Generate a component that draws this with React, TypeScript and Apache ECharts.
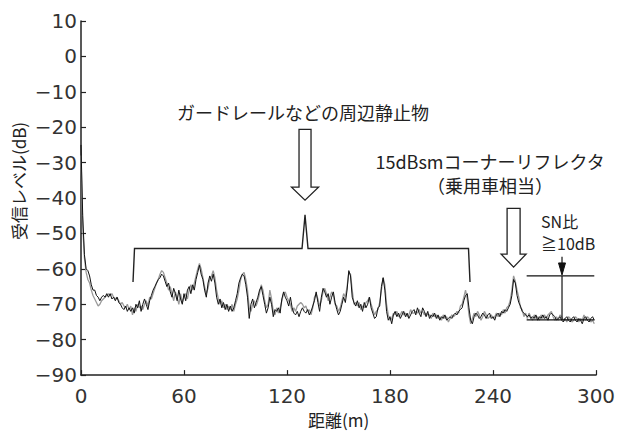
import React, { useEffect, useRef } from "react";
import * as echarts from "echarts";

// ---- Data ----
const STEP_M = 1; // sampling step along distance (m)

const blackLevels: number[] = [
  -25, -45, -56, -60, -60.5, -62, -64.5, -66, -66, -67.5,
  -68, -69, -68, -67.5, -68, -67, -68, -67, -68.5, -68,
  -69, -68, -69.5, -70, -71, -71.5, -70.5, -72, -71, -72,
  -71, -72.5, -70, -71, -69, -72, -70, -68.5, -70, -71.5,
  -69, -67.5, -66, -65, -64, -63, -62.5, -61.5, -62, -63.5,
  -65, -64, -66.5, -68, -65.5, -67, -69, -66, -68.5, -70,
  -67, -69, -66, -65, -67, -64.5, -66, -63, -61, -59,
  -61.5, -63, -66, -68, -64, -62, -63.5, -61.5, -64, -68,
  -70, -68.5, -71, -69.5, -71.5, -70, -72, -70.5, -72, -71,
  -69, -67, -64, -62.5, -61.5, -62, -64.5, -68, -74, -70,
  -68.5, -71, -69.5, -68, -66, -65, -67.5, -70, -72.5, -71,
  -68, -70, -73.5, -71.5, -72, -71, -72.5, -68.5, -66.5, -68,
  -69, -70.5, -68, -71, -72.5, -73, -72, -73.5, -72, -71,
  -72, -72.5, -71.5, -73, -72, -70.5, -69, -66.5, -69.5, -72,
  -68, -65.5, -66.5, -68, -67, -70, -68, -66.5, -69.5, -71.5,
  -73, -72, -70, -68, -69.5, -66, -60.5, -62, -68, -69.5,
  -70.5, -69, -71, -70, -72, -69.5, -71, -70, -68, -71,
  -72.5, -74, -73.5, -71, -70.5, -65, -62.5, -66, -72, -74.5,
  -73.5, -75.5, -73, -72, -73.5, -72.5, -74, -73, -72, -73.5,
  -72.5, -74, -73, -72, -71.5, -73, -71, -72.5, -73.5, -71,
  -72, -73.5, -72, -74, -73, -73.5, -72.5, -74, -73, -74.5,
  -73.5, -74, -73, -74.5, -74, -73.5, -74, -73, -72.5, -73,
  -72, -71.5, -71, -69, -67.5, -67, -71, -74.5, -75.5, -73.5,
  -72.5, -73, -74, -73.5, -72.5, -73, -74, -73, -72.5, -74,
  -73.5, -74.5, -73, -72.5, -73.5, -72, -72.5, -71.5, -72, -71,
  -70, -67.5, -63, -64, -67.5, -69.5, -70.5, -72, -72.5, -73,
  -73.5, -73, -74, -73.5, -74, -73, -74.5, -73.5, -74, -73,
  -74, -73.5, -74.5, -73, -72.5, -73, -73.5, -74.5, -74, -73.5,
  -74.5, -75, -74, -73.5, -74.5, -75, -74, -73.5, -74.5, -75,
  -74, -74.5, -75.5, -74, -73.5, -74.5, -75, -74, -73.5, -74.5,
];

const grayLevels: number[] = [
  -28, -48, -57, -61, -63, -64, -66, -67.5, -68.5, -69.5,
  -70.5, -70, -69, -68.5, -68, -67.5, -67, -67.5, -67, -68,
  -68.5, -68, -69, -70, -69.5, -70.5, -71, -70, -71.5, -70.5,
  -73, -71, -72, -70, -71, -70.5, -71.5, -70, -69, -70.5,
  -68, -68.5, -67, -65.5, -64, -63, -61.5, -60.5, -61, -62.5,
  -64, -66, -65, -67, -69, -66.5, -68, -70, -67, -69.5,
  -68, -67, -68.5, -66, -64.5, -66, -64, -62, -60, -58.5,
  -60, -62.5, -65, -67, -65.5, -63, -62, -60.5, -62.5, -66,
  -68.5, -70, -69, -71, -70, -71.5, -70.5, -71.5, -70, -72,
  -70, -68.5, -66, -63, -61.5, -61, -63, -66, -71, -72,
  -70, -69, -70.5, -69, -67, -64.5, -66, -69, -71, -70,
  -66, -68.5, -72, -73, -71, -72.5, -71, -69, -67, -66.5,
  -68, -69, -70, -72, -71, -72, -70.5, -70, -69.5, -70,
  -71, -70.5, -72, -71.5, -73, -71, -68, -67, -68.5, -70.5,
  -69, -66.5, -65.5, -67, -69, -68, -66.5, -67.5, -70, -70.5,
  -72, -71, -69, -67, -68, -65, -61, -61.5, -66, -70,
  -69.5, -70.5, -69.5, -71.5, -70.5, -71, -69.5, -69, -68, -70,
  -71.5, -73, -72, -71.5, -69.5, -66, -62.5, -64.5, -70, -73,
  -74.5, -74, -72.5, -73, -72, -73.5, -73, -72, -73, -72.5,
  -73.5, -73, -71.5, -72.5, -72.5, -72, -72.5, -71.5, -72.5, -72,
  -73, -72.5, -73, -73, -74, -72.5, -73.5, -73, -74, -73.5,
  -74.5, -73, -74, -73.5, -75, -74, -73, -73.5, -73, -72,
  -72.5, -70.5, -70, -68, -66, -68.5, -73, -75.5, -74, -72.5,
  -73.5, -72, -73, -74.5, -73.5, -72, -73, -74, -73.5, -73,
  -74, -73.5, -72.5, -73.5, -72.5, -73, -71.5, -72.5, -71, -70.5,
  -69, -66, -62, -63.5, -66, -68, -71, -71.5, -73.5, -72.5,
  -74, -72.5, -73.5, -74.5, -73, -74, -73.5, -74.5, -73, -74,
  -73, -74, -73, -72.5, -72, -73.5, -74.5, -73.5, -74.5, -73,
  -73.5, -74.5, -74, -75, -73.5, -74, -75, -74.5, -73.5, -74,
  -75, -74, -74.5, -73, -74.5, -73.5, -74, -75, -74.5, -75.5,
];

const xTicks = [0, 60, 120, 180, 240, 300];
const yTicks = [-90, -80, -70, -60, -50, -40, -30, -20, -10, 0, 10];

// annotation anchors in data units [distance m, level dB]
const guardLabel = { text: "ガードレールなどの周辺静止物", at: [129.3, -15.6] };
const guardArrow = { top: [130.5, -20.6], tip: [130.5, -40.6] };
const brace = { from: 30.3, to: 226.6, mid: 130.5, bar: -54.25, end: -63.7, peak: -44.7 };
const cornerLabel1 = { text: "15dBsmコーナーリフレクタ", at: [238.3, -29.5] };
const cornerLabel2 = { text: "（乗用車相当）", at: [238.3, -36.4] };
const cornerArrow = { top: [252, -42.9], tip: [252, -59.5] };
const snLabel1 = { text: "SN比", at: [268, -46.6] };
const snLabel2 = { text: "≧10dB", at: [268, -52.8] };
const snLevels = { signal: -62, noise: -74.4, from: 259.6, to: 299, at: 280.2, arrowTop: -56.6 };

const FONT = "'Noto Sans CJK JP', 'DejaVu Sans', sans-serif";
const NUM_FONT = "'DejaVu Sans', sans-serif";

export default function App() {
  const ref = useRef<HTMLDivElement>(null);

  useEffect(() => {
    document.body.style.margin = "0";
    if (!ref.current) return;
    const chart = echarts.init(ref.current, undefined, { renderer: "svg" });

    const toPairs = (arr: number[]) => arr.map((v, i) => [i * STEP_M, v]);

    chart.setOption({
      animation: false,
      backgroundColor: "#ffffff",
      grid: { left: 81, right: 23, top: 21, bottom: 52, containLabel: false },
      xAxis: {
        type: "value",
        min: xTicks[0],
        max: xTicks[xTicks.length - 1],
        interval: 60,
        name: "距離(m)",
        nameLocation: "middle",
        nameGap: 31,
        nameTextStyle: { fontSize: 17, color: "#222", fontFamily: FONT },
        axisLine: { onZero: false, lineStyle: { color: "#222", width: 1.5 } },
        axisTick: { inside: true, length: 5, lineStyle: { color: "#222", width: 1.2 } },
        axisLabel: { fontSize: 20, color: "#333", margin: 11, fontFamily: NUM_FONT },
        splitLine: { show: false },
      },
      yAxis: {
        type: "value",
        min: yTicks[0],
        max: yTicks[yTicks.length - 1],
        interval: 10,
        axisLine: { show: true, onZero: false, lineStyle: { color: "#222", width: 1.5 } },
        axisTick: { show: true, inside: true, length: 5, lineStyle: { color: "#222", width: 1.2 } },
        axisLabel: {
          fontSize: 20,
          color: "#333",
          margin: 4,
          fontFamily: NUM_FONT,
          formatter: (v: number) => String(v).replace("-", "−"),
        },
        splitLine: { show: false },
      },
      series: [
        {
          type: "line",
          data: toPairs(grayLevels),
          showSymbol: false,
          lineStyle: { color: "#9a9a9a", width: 1.3 },
          z: 2,
        },
        {
          type: "line",
          data: toPairs(blackLevels),
          showSymbol: false,
          lineStyle: { color: "#111", width: 1 },
          z: 3,
        },
      ],
    });

    const px = (d: number, v: number) => chart.convertToPixel({ gridIndex: 0 }, [d, v]) as number[];

    const textEl = (t: { text: string; at: number[] }, align: string, size: number, family = FONT) => {
      const p = px(t.at[0], t.at[1]);
      return {
        type: "text",
        x: p[0],
        y: p[1],
        style: {
          text: t.text,
          fill: "#222",
          font: `${size}px ${family}`,
          align,
          verticalAlign: "middle",
        },
        z: 10,
      };
    };

    const hollowArrow = (top: number[], tip: number[], shaftW: number, headW: number, headH: number) => {
      const a = px(top[0], top[1]);
      const b = px(tip[0], tip[1]);
      const cx = b[0];
      const baseY = b[1] - headH;
      return {
        type: "polygon",
        shape: {
          points: [
            [cx - shaftW / 2, a[1]],
            [cx + shaftW / 2, a[1]],
            [cx + shaftW / 2, baseY],
            [cx + headW / 2, baseY],
            [cx, b[1]],
            [cx - headW / 2, baseY],
            [cx - shaftW / 2, baseY],
          ],
        },
        style: { fill: "#fff", stroke: "#222", lineWidth: 1.3 },
        z: 10,
      };
    };

    const bl = px(brace.from, brace.end);
    const bt = px(brace.from, brace.bar);
    const br = px(brace.to, brace.bar);
    const bre = px(brace.to, brace.end);
    const bm = px(brace.mid, brace.bar);
    const bp = px(brace.mid, brace.peak);

    const sigL = px(snLevels.from, snLevels.signal);
    const sigR = px(snLevels.to, snLevels.signal);
    const noiL = px(snLevels.from, snLevels.noise);
    const noiR = px(snLevels.to, snLevels.noise);
    const arTop = px(snLevels.at, snLevels.arrowTop);
    const arTip = px(snLevels.at, snLevels.signal);
    const arBot = px(snLevels.at, snLevels.noise);

    const graphic: any[] = [
      textEl(guardLabel, "center", 18),
      hollowArrow(guardArrow.top, guardArrow.tip, 12, 27, 13),
      {
        type: "polyline",
        shape: {
          points: [
            [bl[0], bl[1]],
            [bt[0] + 1.5, bt[1]],
            [bm[0] - 3, bm[1]],
            [bp[0] - 0.5, bp[1] + 6],
            [bp[0], bp[1]],
            [bp[0] + 0.5, bp[1] + 6],
            [bm[0] + 3, bm[1]],
            [br[0] - 1.5, br[1]],
            [bre[0], bre[1]],
          ],
        },
        style: { stroke: "#222", lineWidth: 1.4, fill: null },
        z: 10,
      },
      textEl(cornerLabel1, "center", 18),
      textEl(cornerLabel2, "center", 18),
      hollowArrow(cornerArrow.top, cornerArrow.tip, 13, 25, 13),
      textEl(snLabel1, "left", 16),
      textEl(snLabel2, "left", 16),
      {
        type: "line",
        shape: { x1: sigL[0], y1: sigL[1], x2: sigR[0], y2: sigR[1] },
        style: { stroke: "#111", lineWidth: 1.2 },
        z: 10,
      },
      {
        type: "line",
        shape: { x1: noiL[0], y1: noiL[1], x2: noiR[0], y2: noiR[1] },
        style: { stroke: "#111", lineWidth: 1.2 },
        z: 10,
      },
      {
        type: "line",
        shape: { x1: arTop[0], y1: arTop[1], x2: arTop[0], y2: arTip[1] - 10 },
        style: { stroke: "#111", lineWidth: 1.2 },
        z: 10,
      },
      {
        type: "polygon",
        shape: {
          points: [
            [arTip[0] - 3.5, arTip[1] - 13],
            [arTip[0] + 3.5, arTip[1] - 13],
            [arTip[0], arTip[1] - 1],
          ],
        },
        style: { fill: "#111", stroke: "#111", lineWidth: 1 },
        z: 10,
      },
      {
        type: "line",
        shape: { x1: arTip[0], y1: arTip[1], x2: arBot[0], y2: arBot[1] },
        style: { stroke: "#111", lineWidth: 1.2 },
        z: 10,
      },
      {
        type: "text",
        x: 18,
        y: 181,
        rotation: Math.PI / 2,
        style: {
          text: "受信レベル(dB)",
          fill: "#222",
          font: `17px ${FONT}`,
          align: "center",
          verticalAlign: "middle",
        },
        z: 10,
      },
    ];

    chart.setOption({ graphic });

    return () => chart.dispose();
  }, []);

  return <div ref={ref} style={{ width: 619, height: 433 }} />;
}
